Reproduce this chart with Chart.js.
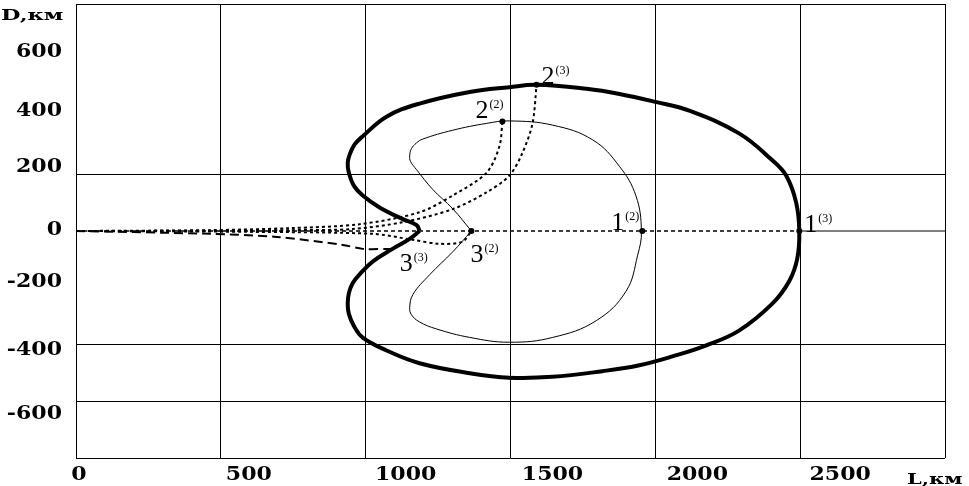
<!DOCTYPE html>
<html>
<head>
<meta charset="utf-8">
<script src="https://cdn.jsdelivr.net/npm/chart.js@4.4.1/dist/chart.umd.min.js"></script>
<style>
html, body { margin: 0; padding: 0; background: #fff; }
#wrap { width: 969px; height: 486px; }
</style>
</head>
<body>
<div id="wrap"><canvas id="chart" width="969" height="486"></canvas></div>
<script>
// outer closed curve (3) - thick line, starts at the notch and goes round
const outerX = [1186, 1176, 1128, 1048, 990, 959, 942, 938, 945, 962, 990, 1072, 1186, 1359, 1496, 1590, 1762, 1876, 2000, 2117, 2289, 2403, 2452, 2486, 2497,
                2490, 2462, 2403, 2289, 2176, 2059, 1945, 1817, 1645, 1496, 1359, 1186, 1072, 990, 959, 942, 938, 942, 955, 979, 1024, 1093, 1152, 1186];
const outerY = [0, 21, 42, 83, 125, 160, 205, 240, 270, 305, 334, 403, 449, 490, 507, 515, 501, 483, 455, 424, 344, 250, 195, 101, 0,
                -97, -177, -257, -351, -403, -442, -473, -494, -514, -517, -501, -466, -421, -376, -334, -292, -257, -219, -184, -153, -108, -63, -28, 0];

// inner closed curve (2) - thin line
const innerX = [1365, 1301, 1231, 1175, 1155, 1152, 1158, 1175, 1197, 1300, 1416, 1496, 1646, 1784, 1876, 1933, 1952,
                1939, 1899, 1796, 1646, 1496, 1359, 1244, 1185, 1158, 1152, 1163, 1221, 1301, 1365];
const innerY = [0, 78, 147, 217, 245, 265, 290, 310, 324, 355, 379, 388, 373, 321, 228, 124, 0,
                -85, -212, -316, -375, -392, -375, -345, -320, -295, -270, -224, -154, -73, 0];

// trajectories from the origin
const path22X = [0, 462, 738, 979, 1186, 1300, 1417, 1462, 1472];
const path22Y = [0, 3, 10, 24, 66, 125, 205, 299, 386];
const path23X = [0, 462, 738, 955, 1128, 1300, 1417, 1496, 1541, 1576, 1590];
const path23Y = [0, 1, 3, 7, 31, 77, 136, 195, 275, 379, 515];
const path32X = [0, 600, 1024, 1162, 1255, 1334, 1365];
const path32Y = [0, -3, -10, -31, -45, -38, 0];
const path33X = [0, 462, 693, 921, 990, 1083, 1100];
const path33Y = [0, -10, -21, -49, -63, -63, -62];
const path1X = [0, 2497];
const path1Y = [0, 0];
const zeroTailX = [2497, 3000];
const zeroTailY = [0, 0];

// marked points and their names
const markX = [1590, 1472, 1955, 2497, 1365, 1100];
const markY = [515, 386, 0, 0, 0, -62];
const markName = ['2', '2', '1', '1', '3', '3'];
const markSup = ['(3)', '(2)', '(2)', '(3)', '(2)', '(3)'];

// tick labels
const xTicks = [0, 500, 1000, 1500, 2000, 2500];
const yTicks = [600, 400, 200, 0, -200, -400, -600];
const yGridShown = [800, 200, -400, -600, -800];
const xTitle = 'L,км';
const yTitle = 'D,км';

// label placement (pixels) - the scanned figure has its labels a bit off the grid
const X_LABEL_SHIFT = [3, 28, 40, 42, 42, 40];
const Y_LABEL_SHIFT = [-11, -9, -9, -3, -8, 3, 11];
const MARK_LABEL_OFFSET = [[5, -1], [-27, -3], [-31, -1], [5, 1], [-1, 31], [5, 22]];
const MARK_DOT = [3, 3, 3, 3, 3, 0];

function pts(xs, ys) {
    return xs.map((x, i) => ({ x: x, y: ys[i] }));
}

function stretched(ctx, text, x, y, align, sx) {
    ctx.save();
    ctx.translate(x, y);
    ctx.scale(sx, 1);
    ctx.textAlign = align;
    ctx.fillText(text, 0, 0);
    ctx.restore();
}

const figureText = {
    id: 'figureText',
    afterDraw(chart) {
        const ctx = chart.ctx;
        const xs = chart.scales.x, ys = chart.scales.y;
        ctx.save();
        ctx.fillStyle = '#000';
        ctx.textBaseline = 'alphabetic';

        ctx.font = 'bold 19px "DejaVu Serif"';
        xTicks.forEach((v, i) => {
            stretched(ctx, String(v), xs.getPixelForValue(v) + X_LABEL_SHIFT[i], 480, 'center', 1.16);
        });
        yTicks.forEach((v, i) => {
            stretched(ctx, String(v), 62, ys.getPixelForValue(v) + Y_LABEL_SHIFT[i] + 7, 'right', 1.16);
        });

        ctx.font = 'bold 15px "DejaVu Serif"';
        stretched(ctx, yTitle, 1, 20, 'left', 1.5);
        stretched(ctx, xTitle, 907, 484, 'left', 1.4);

        // names of the marked points, with superscripts
        const meta = chart.getDatasetMeta(chart.data.datasets.length - 1);
        meta.data.forEach((el, i) => {
            const off = MARK_LABEL_OFFSET[i];
            const bx = el.x + off[0], by = el.y + off[1];
            ctx.font = '26px "Liberation Serif"';
            ctx.textAlign = 'left';
            ctx.fillText(markName[i], bx, by);
            const w = ctx.measureText(markName[i]).width;
            ctx.font = '12px "Liberation Serif"';
            ctx.fillText(markSup[i], bx + w + 1, by - 10);
        });
        ctx.restore();
    }
};

const base = { showLine: true, pointRadius: 0, borderColor: '#000', backgroundColor: '#000', fill: false };

new Chart(document.getElementById('chart'), {
    type: 'scatter',
    data: {
        datasets: [
            { ...base, label: 'outer', data: pts(outerX, outerY), borderWidth: 4, tension: 0.4, borderJoinStyle: 'round' },
            { ...base, label: 'inner', data: pts(innerX, innerY), borderWidth: 1, tension: 0.4 },
            { ...base, label: 'to 2(2)', data: pts(path22X, path22Y), borderWidth: 2, borderDash: [3, 3], tension: 0.3 },
            { ...base, label: 'to 2(3)', data: pts(path23X, path23Y), borderWidth: 2, borderDash: [3, 3], tension: 0.3 },
            { ...base, label: 'to 3(2)', data: pts(path32X, path32Y), borderWidth: 2, borderDash: [3, 3], tension: 0.3 },
            { ...base, label: 'to 3(3)', data: pts(path33X, path33Y), borderWidth: 2, borderDash: [9, 5], tension: 0.3 },
            { ...base, label: 'to 1', data: pts(path1X, path1Y), borderWidth: 1.5, borderDash: [4, 3] },
            { ...base, label: 'zero', data: pts(zeroTailX, zeroTailY), borderWidth: 1.2 },
            { label: 'marks', data: pts(markX, markY), showLine: false, pointRadius: MARK_DOT, pointBackgroundColor: '#000', pointBorderWidth: 0 }
        ]
    },
    options: {
        responsive: false,
        animation: false,
        devicePixelRatio: 1,
        layout: { padding: { left: 76, right: 24, top: 0, bottom: 28 } },
        plugins: { legend: { display: false }, tooltip: { enabled: false } },
        scales: {
            x: {
                type: 'linear', min: 0, max: 3000,
                ticks: { display: false, stepSize: 500 },
                grid: { color: '#000', lineWidth: 1, drawTicks: false },
                border: { display: false }
            },
            y: {
                type: 'linear', min: -800, max: 800,
                ticks: { display: false, stepSize: 200 },
                grid: {
                    color: c => yGridShown.includes(c.tick.value) ? '#000' : 'rgba(0,0,0,0)',
                    lineWidth: 1, drawTicks: false
                },
                border: { display: false }
            }
        }
    },
    plugins: [figureText]
});
</script>
</body>
</html>
